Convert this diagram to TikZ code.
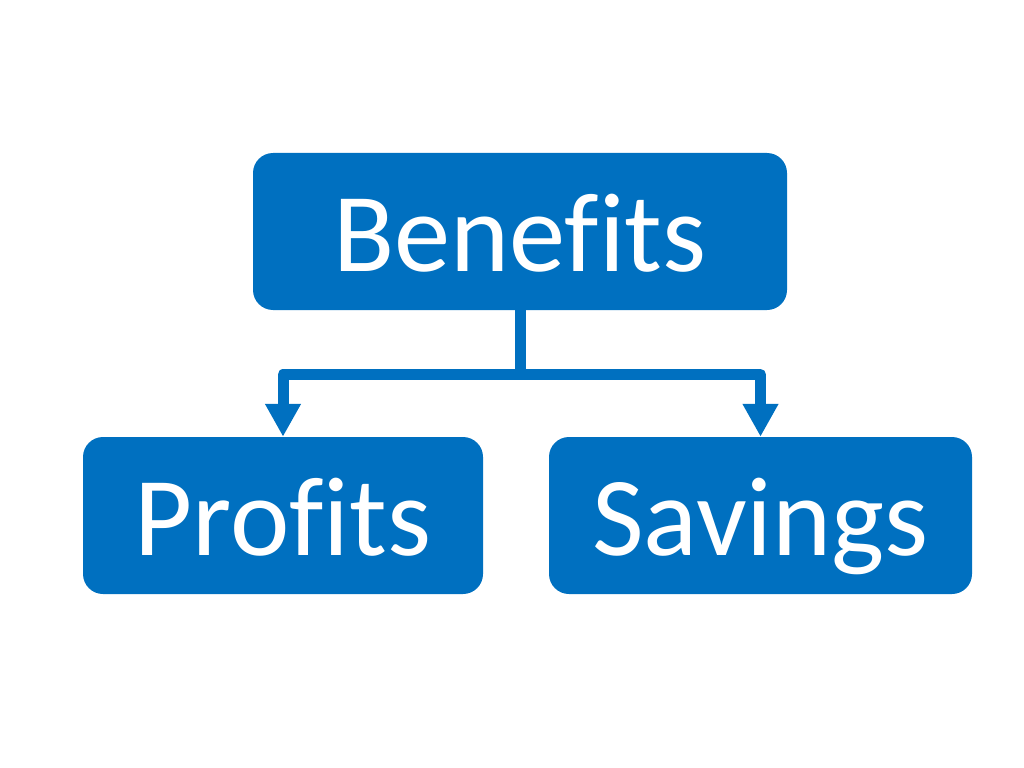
\documentclass[tikz,border=0pt]{standalone}
\usepackage{fontspec}
\setmainfont[Ligatures=NoCommon]{Carlito}
\usetikzlibrary{arrows.meta}
\definecolor{boxblue}{RGB}{0,112,192}
\tikzset{
	bluebox/.style={fill=boxblue, rounded corners=0.5cm, text=white, minimum height=157*0.025cm,
		font=\fontsize{80}{96}\selectfont, text height=57pt, text depth=0pt, inner sep=0pt},
	conn/.style={draw=boxblue, line width=11*0.025cm, line join=round},
	tip/.style={-{Triangle[length=0.82cm, width=0.84cm]}}
}
\begin{document}
\begin{tikzpicture}[x=0.025cm, y=-0.025cm]
		\useasboundingbox (0,0) rectangle (1024,768);
		
		\node[bluebox, minimum width=534*0.025cm] (ben) at (520,231.5) {Benefits};
		\node[bluebox, minimum width=400*0.025cm] (prof) at (283,515.5) {Profits};
		\node[bluebox, minimum width=423*0.025cm] (sav) at (760.5,515.5) {Savings};
		
		\coordinate (split) at (520,374.5);
		\draw[conn] (ben.south) -- (split);
		\draw[conn, tip] (split) -| (prof.north);
		\draw[conn, tip] (split) -| (sav.north);
		\end{tikzpicture}
\end{document}
